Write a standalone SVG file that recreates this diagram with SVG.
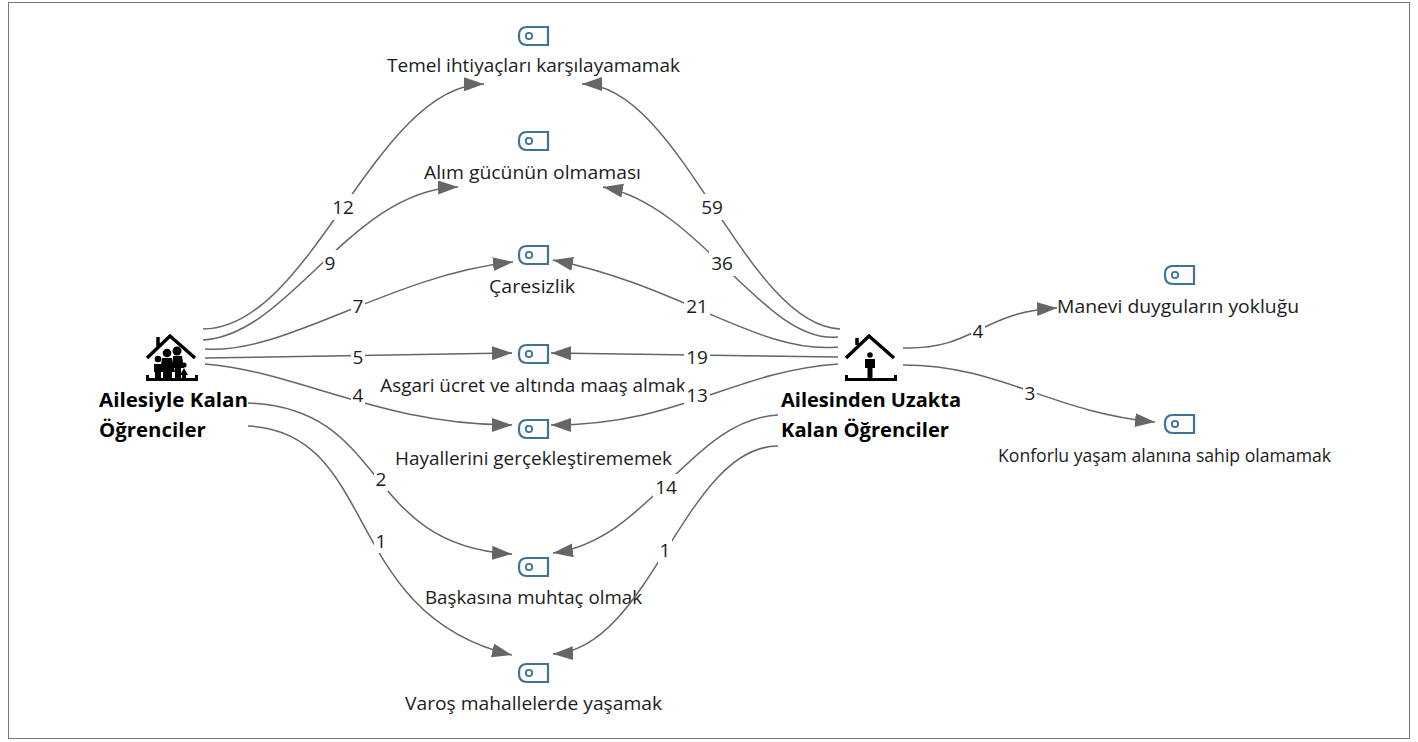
<svg xmlns="http://www.w3.org/2000/svg" width="1418" height="742" viewBox="0 0 1418 742">
<style>
text{font-family:"Open Sans","Noto Sans","Liberation Sans",sans-serif;fill:#1c1c1c}
.l{font-size:18.900px;text-anchor:middle}
.b{font-size:20.400px;font-weight:700;fill:#000}
.n{font-size:19px;text-anchor:middle}
.e{fill:none;stroke:#666;stroke-width:1.500;marker-end:url(#a)}
.w{fill:#fff}
.i{fill:#fdfdfd;stroke:#3f7396;stroke-width:2.200}
.k{fill:#000}
.r{fill:none;stroke:#000;stroke-width:3.500}
</style>
<defs>
<marker id="a" markerUnits="userSpaceOnUse" markerWidth="22" markerHeight="16" refX="20" refY="7" orient="auto"><path d="M0,0L20,7L0,14Z" fill="#666"/></marker>
<g id="tag"><path class="i" d="M9,1H30V19H9Q1,19 1,11V9Q1,1 9,1Z"/><circle cx="11" cy="10" r="3.200" fill="none" stroke="#3f7396" stroke-width="1.800"/></g>
</defs>
<rect x="8.500" y="2.500" width="1401" height="736" fill="#fff" stroke="#777" stroke-width="1"/>
<g id="node-temel"><use href="#tag" x="518" y="26"/><text class="l" x="533.500" y="72" textLength="293" lengthAdjust="spacingAndGlyphs">Temel ihtiyaçları karşılayamamak</text></g>
<g id="node-alim"><use href="#tag" x="518" y="131"/><text class="l" x="532.500" y="179" textLength="217" lengthAdjust="spacingAndGlyphs">Alım gücünün olmaması</text></g>
<g id="node-caresizlik"><use href="#tag" x="518" y="245"/><text class="l" x="532" y="293" textLength="86" lengthAdjust="spacingAndGlyphs">Çaresizlik</text></g>
<g id="node-asgari"><use href="#tag" x="518" y="344"/><text class="l" x="533" y="392">Asgari ücret ve altında maaş almak</text></g>
<g id="node-hayaller"><use href="#tag" x="518" y="419"/><text class="l" x="533.500" y="465" textLength="277" lengthAdjust="spacingAndGlyphs">Hayallerini gerçekleştirememek</text></g>
<g id="node-baskasina"><use href="#tag" x="518" y="557"/><text class="l" x="533.500" y="604" textLength="217" lengthAdjust="spacingAndGlyphs">Başkasına muhtaç olmak</text></g>
<g id="node-varos"><use href="#tag" x="518" y="663"/><text class="l" x="533.500" y="710" textLength="257" lengthAdjust="spacingAndGlyphs">Varoş mahallelerde yaşamak</text></g>
<g id="node-manevi"><use href="#tag" x="1164" y="265"/><text class="l" x="1178" y="313" textLength="242" lengthAdjust="spacingAndGlyphs">Manevi duyguların yokluğu</text></g>
<g id="node-konforlu"><use href="#tag" x="1164" y="414"/><text class="l" x="1164.500" y="462" textLength="333" lengthAdjust="spacingAndGlyphs">Konforlu yaşam alanına sahip olamamak</text></g>
<g id="connectors">
<path class="e" d="M203,329C311,329 375,85 484,84"/>
<path class="e" d="M203,340C290,335 350,190 458,187"/>
<path class="e" d="M205,349C285,355 390,275 513,262"/>
<path class="e" d="M205,358L512,353"/>
<path class="e" d="M205,364C300,372 380,425 512,425"/>
<path class="e" d="M248,403C390,408 360,545 512,554"/>
<path class="e" d="M248,426C380,432 340,615 512,655"/>
<path class="e" d="M840,329C745,325 680,84 582,84"/>
<path class="e" d="M838,337C765,345 700,205 603,187"/>
<path class="e" d="M838,347C760,355 680,285 553,260"/>
<path class="e" d="M838,357L551,353"/>
<path class="e" d="M838,364C730,372 680,425 551,425"/>
<path class="e" d="M778,415C690,420 650,540 553,553"/>
<path class="e" d="M778,446C685,446 650,650 553,654"/>
<path class="e" d="M903,348C975,350 980,312 1057,308"/>
<path class="e" d="M903,365C1000,365 1050,412 1155,422"/>
</g>
<g id="edge-labels">
<rect class="w" x="330" y="194" width="26" height="26"/><text class="n" x="343" y="214">12</text>
<rect class="w" x="323" y="250" width="14" height="26"/><text class="n" x="330" y="270">9</text>
<rect class="w" x="351" y="295" width="14" height="24"/><text class="n" x="358" y="313">7</text>
<rect class="w" x="351" y="346" width="14" height="24"/><text class="n" x="358" y="364">5</text>
<rect class="w" x="351" y="383" width="14" height="24"/><text class="n" x="358" y="402">4</text>
<rect class="w" x="374" y="467" width="14" height="24"/><text class="n" x="381" y="486">2</text>
<rect class="w" x="374" y="529" width="14" height="24"/><text class="n" x="381" y="548">1</text>
<rect class="w" x="699" y="194" width="26" height="26"/><text class="n" x="712" y="214">59</text>
<rect class="w" x="709" y="250" width="26" height="26"/><text class="n" x="722" y="270">36</text>
<rect class="w" x="684" y="294" width="26" height="25"/><text class="n" x="697" y="313">21</text>
<rect class="w" x="684" y="346" width="26" height="24"/><text class="n" x="697" y="364">19</text>
<rect class="w" x="684" y="383" width="26" height="24"/><text class="n" x="697" y="402">13</text>
<rect class="w" x="653" y="474" width="26" height="26"/><text class="n" x="666" y="494">14</text>
<rect class="w" x="658" y="538" width="14" height="25"/><text class="n" x="665" y="557">1</text>
<rect class="w" x="971" y="320" width="14" height="24"/><text class="n" x="978" y="338">4</text>
<rect class="w" x="1023" y="382" width="14" height="24"/><text class="n" x="1030" y="400">3</text>
</g>
<g id="node-ailesiyle">
<path class="r" d="M147,358L170,336L195,358M158,347V337"/>
<path class="k" d="M146,378H198V381H146ZM146,375H149V381H146ZM195,375H198V381H195Z"/>
<circle class="k" cx="158" cy="359" r="3.300"/><path class="k" d="M154,364H162V372H161V379H155V372H154Z"/>
<circle class="k" cx="167" cy="353" r="4.300"/><path class="k" d="M162,358H172L175,372H172V379H163V372H160Z"/>
<circle class="k" cx="177" cy="351" r="4.500"/><path class="k" d="M173,356H182L184,368H181V379H175V368H173Z"/>
<circle class="k" cx="184" cy="365" r="2.600"/><path class="k" d="M184,368L188,375H186V379H182V375H180Z"/>
<text class="b" x="99" y="407" textLength="149" lengthAdjust="spacingAndGlyphs">Ailesiyle Kalan</text><text class="b" x="99" y="437">Öğrenciler</text>
</g>
<g id="node-ailesinden">
<path class="r" d="M846,358L869,336L894,358M857,345V338"/>
<path class="k" d="M845,378H897V381H845ZM845,375H848V381H845ZM894,375H897V381H894Z"/>
<circle class="k" cx="870" cy="355" r="2.800"/><path class="k" d="M865,359H875V368H872.500V379H867.500V368H865Z"/>
<text class="b" x="781" y="407" textLength="180" lengthAdjust="spacingAndGlyphs">Ailesinden Uzakta</text><text class="b" x="781" y="437" textLength="168" lengthAdjust="spacingAndGlyphs">Kalan Öğrenciler</text>
</g>
</svg>
